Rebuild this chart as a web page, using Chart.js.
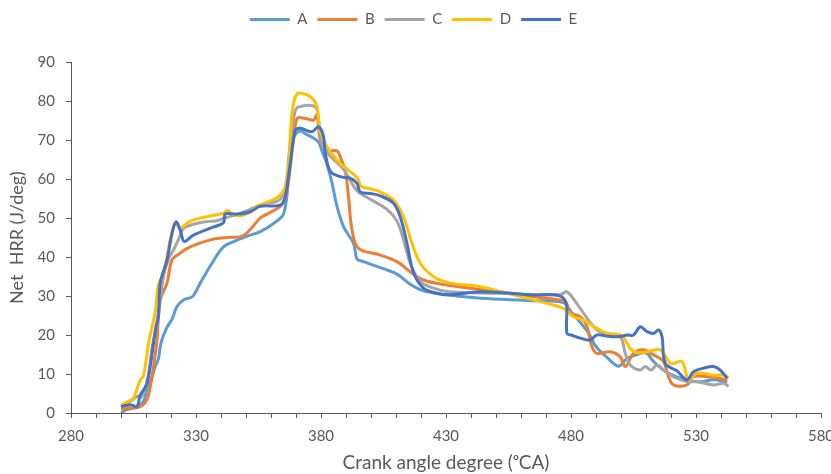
<!DOCTYPE html>
<html>
<head>
<meta charset="utf-8">
<script src="https://cdn.jsdelivr.net/npm/chart.js@4.4.0/dist/chart.umd.min.js"></script>
<style>
  html, body { margin: 0; padding: 0; background: #fff; }
  #wrap { width: 831px; height: 474px; }
</style>
</head>
<body>
<div id="wrap"><canvas id="grafico" width="831" height="474"></canvas></div>
<script>
// series names and tick labels
let nomes = ["A", "B", "C", "D", "E"];
let xTicks = [280, 330, 380, 430, 480, 530, 580];
let yTicks = [0, 10, 20, 30, 40, 50, 60, 70, 80, 90];

// crank angle (deg) and net HRR (J/deg)
let aX = [300, 302, 306, 309, 310.5, 312, 313.7, 315, 316, 318.4, 320.4, 322.4, 325, 328.5, 331.7, 336, 341, 346, 351.7, 355.7, 361, 365, 367, 369, 371.5, 374, 377, 379, 380.5, 382.3, 384.4, 386.4, 389, 393, 394.4, 397, 405, 410.4, 415.7, 421, 430, 444, 464, 477, 480, 484, 487, 490, 494, 499, 502, 506, 510, 513, 517, 522, 527, 532, 537, 542.5];
let aY = [0, 0.8, 1.5, 3, 6.5, 8.5, 11.9, 14, 18, 22, 24, 27.3, 29, 29.8, 33.3, 38, 42.6, 44.2, 45.6, 46.5, 48.6, 51, 59.7, 70.5, 72.3, 71.5, 70.5, 69.5, 67, 64, 59, 53, 47.8, 43.5, 39.5, 38.8, 37, 35.6, 33, 31.3, 30.3, 29.4, 28.8, 28.3, 26, 23, 20.5, 17, 14.5, 12, 13.8, 14.9, 15.4, 13.2, 11, 9.3, 8.3, 8, 8.5, 8];

let bX = [300, 304, 307.7, 310.3, 311.7, 313, 314.4, 315.7, 318.4, 320.4, 323.7, 327.7, 335.7, 342.4, 349, 355.7, 358.4, 363.7, 365.7, 367.5, 369, 370.5, 374, 377, 378.4, 379.7, 382.3, 386.4, 387.7, 389.7, 391, 392.4, 395, 403.7, 410.4, 415.7, 421, 430.4, 450.4, 470.4, 477.7, 479.7, 483.7, 486.4, 488.4, 490.4, 495.7, 499.7, 501.7, 505, 509, 513, 517, 519, 521, 526.4, 529, 534.4, 538.4, 542.5];
let bY = [1, 1.2, 1.6, 3.3, 6.7, 11.9, 18.7, 29, 33.3, 39.2, 41, 42.6, 44.4, 45, 45.5, 50, 51, 53, 55, 62, 70, 75.6, 75.5, 75.1, 76.4, 70, 67.4, 67.2, 65.7, 62, 55.5, 47, 42.2, 40.5, 38.8, 36.2, 34.1, 32.8, 31.1, 29.4, 28.5, 25.6, 24.7, 22.1, 17, 15.3, 15.7, 14.4, 11.9, 15.3, 16.2, 14.9, 13.2, 9.3, 7.2, 7.2, 9.3, 9.3, 9, 8.5];

let cX = [300, 302, 304.4, 306.7, 308, 309.5, 311, 312.5, 314.3, 317, 319, 321, 323, 325, 329, 333, 338.4, 341, 347.7, 355.7, 358.4, 363, 365.5, 367.5, 369.5, 371, 377.7, 379, 380.4, 383.7, 389, 394.4, 399.7, 406.4, 410.4, 413, 415.7, 419.7, 425, 431, 450, 475.7, 478.4, 483.7, 485, 490.4, 495, 499.7, 501.7, 503.7, 507.7, 509.7, 512, 514.4, 517, 521, 526.4, 530.4, 537, 541, 543];
let cY = [1.5, 2, 3.3, 4.3, 4, 6, 10, 17, 23, 35, 39.5, 41.8, 44.5, 47.3, 48.4, 49, 49.3, 49.9, 51.2, 53.3, 53.8, 54.5, 57, 68, 77, 78.5, 78.5, 75, 69, 65.9, 62.5, 57, 54.8, 52.2, 49.2, 44.4, 38.4, 33.7, 32, 31.1, 30.7, 30.3, 31.1, 26.8, 25.6, 21.3, 20.3, 19.6, 15.3, 12.3, 11, 11.9, 11, 12.3, 11, 9.3, 8, 8, 7.2, 7.6, 6.8];

let dX = [300, 303, 305, 307.7, 309, 311, 312.4, 313.7, 315, 317, 319.7, 321.7, 323.7, 327.7, 335.7, 341, 342.6, 344.5, 347.7, 351.7, 354.4, 358.4, 363.7, 366.4, 368.4, 370.4, 374.4, 377, 378.4, 379.7, 382.3, 387.7, 394.4, 396, 399.7, 403.7, 409, 413, 416.4, 419.7, 425, 431.7, 443.7, 457, 470.4, 477, 481, 485, 490.4, 494.4, 499.7, 501.7, 503.7, 506.4, 510.4, 515.7, 520, 524.4, 527, 530.4, 537, 541, 543];
let dY = [2, 3, 3.8, 8.5, 9.5, 17.9, 22, 26, 33, 35.8, 44.4, 48.6, 47.4, 49.2, 50.5, 51.2, 51.9, 51, 50.6, 51.5, 53, 54, 55.9, 59.7, 76.8, 81.8, 81.6, 80.3, 78.5, 72.6, 68.3, 64, 60.4, 58.2, 57.5, 56.7, 54.6, 50.3, 43.5, 38.4, 35, 33.3, 32.4, 30.3, 28.1, 26.8, 24.7, 23.8, 21.7, 20.4, 20, 18.7, 16.5, 15.5, 15.7, 16.2, 12.7, 13.2, 8.5, 10.2, 9.7, 9.7, 9];

let eX = [300, 302.4, 304.5, 306.4, 307.7, 309, 310.4, 311.7, 313, 314, 315, 315.7, 318.4, 320.4, 322, 323.7, 325.3, 329, 335.7, 341, 341.7, 346.4, 351.7, 355.7, 363.7, 365.7, 367.7, 369.7, 371.7, 376.4, 379, 381, 381.7, 383.7, 387.7, 391.7, 394.4, 395.7, 399.7, 403.7, 409, 411.7, 414.4, 417, 421, 426.4, 431.7, 443.7, 463.7, 477, 478.4, 480, 483.7, 487.7, 490.4, 495.7, 499.7, 502.4, 505, 507.7, 510.4, 513, 515, 516.4, 517.7, 522.4, 526.4, 529, 533, 537, 539.7, 542.5];
let eY = [1.6, 2, 2, 1.6, 4.6, 5.9, 7.6, 11.9, 17.9, 22.1, 25, 33.3, 39.2, 46, 49, 46.9, 44, 45.6, 47.4, 48.8, 51, 51, 51.6, 53, 53.3, 55.5, 64, 72.4, 73, 72.1, 73.4, 70.9, 66.6, 62, 60.6, 60.2, 58.9, 56.7, 56.3, 55.7, 53.8, 50.3, 43.5, 36, 32, 30.7, 30.3, 31.1, 30.3, 29.4, 20.4, 20, 19.2, 18.7, 20, 19.6, 19.6, 20, 20, 22.1, 20.9, 20.4, 21.3, 19.6, 12.7, 10.8, 8.5, 10.6, 11.5, 11.9, 11, 8.9];

let cores = ["#5B9BD5", "#ED7D31", "#A5A5A5", "#FFC000", "#4472C4"];
let xs = [aX, bX, cX, dX, eX];
let ys = [aY, bY, cY, dY, eY];

function pontos(x, y) {
    return x.map((v, i) => ({ x: v, y: y[i] }));
}

let fonte = "Lato, 'Liberation Sans', sans-serif";
let cinza = "#595959";

let datasets = nomes.map((n, i) => ({
    label: n,
    data: pontos(xs[i], ys[i]),
    borderColor: cores[i],
    backgroundColor: cores[i],
    borderWidth: 3,
    pointRadius: 0,
    tension: 0.35,
    fill: false,
    order: nomes.length - i
}));

// extra space under the legend, like the original
let espacoLegenda = {
    id: "espacoLegenda",
    beforeInit(chart) {
        let fitOriginal = chart.legend.fit;
        chart.legend.fit = function () {
            fitOriginal.bind(chart.legend)();
            this.height += 25;
        };
    }
};

let ctx = document.getElementById("grafico").getContext("2d");

let grafico = new Chart(ctx, {
    type: "line",
    data: { datasets: datasets },
    plugins: [espacoLegenda],
    options: {
        responsive: false,
        animation: false,
        layout: { padding: { left: 6, right: 10, top: 2, bottom: 0 } },
        plugins: {
            tooltip: { enabled: false },
            legend: {
                position: "top",
                labels: {
                    usePointStyle: true,
                    pointStyle: "line",
                    pointStyleWidth: 40,
                    boxHeight: 15,
                    padding: 10,
                    color: cinza,
                    font: { family: fonte, size: 15 },
                    sort: (a, b) => a.datasetIndex - b.datasetIndex
                }
            }
        },
        scales: {
            x: {
                type: "linear",
                min: xTicks[0],
                max: xTicks[xTicks.length - 1],
                afterFit: (s) => { s.height = 61; s.paddingLeft = 0; s.paddingRight = 0; },
                ticks: {
                    stepSize: 10,
                    autoSkip: false,
                    maxRotation: 0,
                    color: cinza,
                    padding: 9,
                    font: { family: fonte, size: 15 },
                    callback: (v) => xTicks.includes(v) ? String(v) : ""
                },
                grid: { display: true, drawOnChartArea: false, drawTicks: true, tickLength: 5, color: cinza },
                border: { display: true, color: cinza, width: 1 },
                title: {
                    display: true,
                    text: "Crank angle degree (ᵒCA)",
                    color: cinza,
                    font: { family: fonte, size: 19 },
                    padding: { top: 0, bottom: 0 }
                }
            },
            y: {
                min: yTicks[0],
                max: yTicks[yTicks.length - 1],
                afterFit: (s) => { s.width = 65; s.paddingTop = 0; s.paddingBottom = 0; },
                ticks: {
                    stepSize: 10,
                    color: cinza,
                    padding: 11,
                    font: { family: fonte, size: 15 }
                },
                grid: { display: true, drawOnChartArea: false, drawTicks: true, tickLength: 5, color: cinza },
                border: { display: true, color: cinza, width: 1 },
                title: {
                    display: true,
                    text: "Net  HRR (J/deg)",
                    color: cinza,
                    font: { family: fonte, size: 18 },
                    padding: { top: 0, bottom: 0 }
                }
            }
        }
    }
});
</script>
</body>
</html>
